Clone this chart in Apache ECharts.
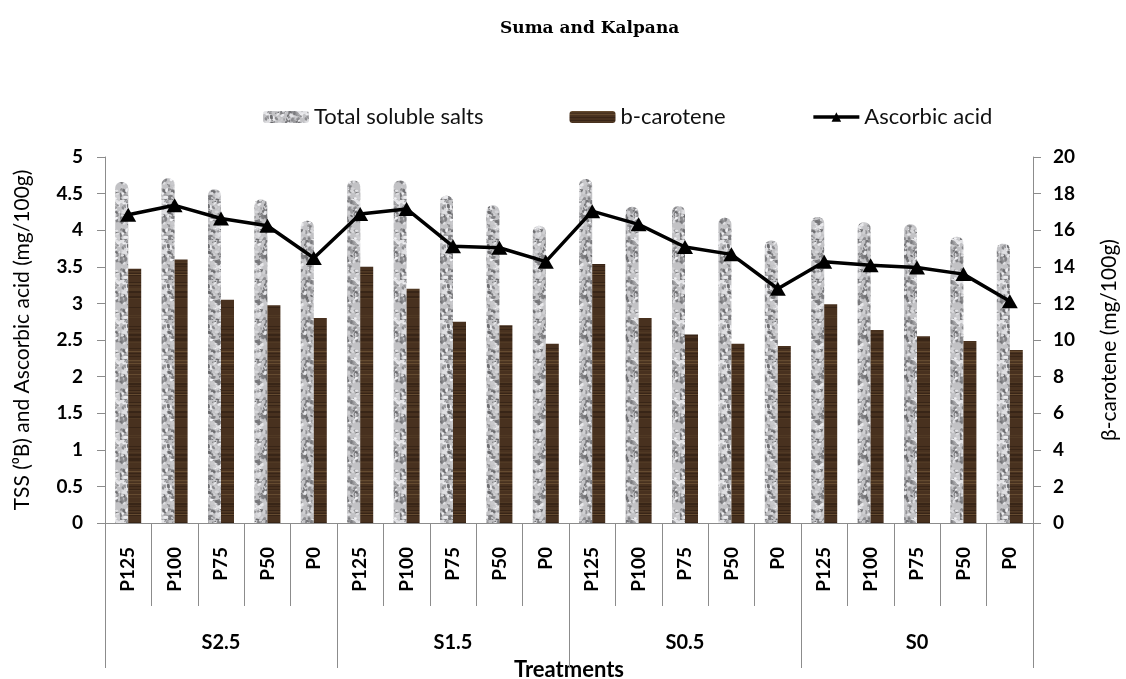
<!DOCTYPE html>
<html>
<head>
<meta charset="utf-8">
<title>Suma and Kalpana</title>
<script src="https://cdn.jsdelivr.net/npm/echarts@6/dist/echarts.min.js"></script>
<style>
  html, body { margin: 0; padding: 0; background: #ffffff; overflow: hidden; }
  #chart { width: 1126px; height: 679px; }
</style>
</head>
<body>
<div id="chart"></div>
<script>
// Treatments: phosphorus levels within each sulphur level
const categories = [
  'P125', 'P100', 'P75', 'P50', 'P0',
  'P125', 'P100', 'P75', 'P50', 'P0',
  'P125', 'P100', 'P75', 'P50', 'P0',
  'P125', 'P100', 'P75', 'P50', 'P0'
];
const groups = ['S2.5', 'S1.5', 'S0.5', 'S0'];

// Total soluble salts (°B), left axis
const tss = [
  4.66, 4.71, 4.56, 4.42, 4.13,
  4.68, 4.68, 4.47, 4.34, 4.06,
  4.70, 4.32, 4.33, 4.17, 3.86,
  4.18, 4.11, 4.08, 3.91, 3.82
];
// beta-carotene (mg/100g), right axis
const carotene = [
  13.9, 14.4, 12.2, 11.9, 11.2,
  14.0, 12.8, 11.0, 10.8, 9.8,
  14.15, 11.2, 10.3, 9.8, 9.67,
  11.95, 10.55, 10.2, 9.95, 9.45
];
// Ascorbic acid (mg/100g), left axis
const ascorbic = [
  4.21, 4.34, 4.16, 4.06, 3.62,
  4.22, 4.29, 3.78, 3.76, 3.57,
  4.26, 4.08, 3.77, 3.67, 3.20,
  3.57, 3.52, 3.49, 3.40, 3.03
];

const leftTicks = { min: 0, max: 5, interval: 0.5 };
const rightTicks = { min: 0, max: 20, interval: 2 };

// Deterministic hash used only for the fill textures
function hash(n) {
  const s = Math.sin(n * 127.1 + 311.7) * 43758.5453;
  return s - Math.floor(s);
}

// Fine grey mottled stone texture for the TSS bars
function stoneTexture() {
  const c = document.createElement('canvas');
  c.width = 40; c.height = 40;
  const g = c.getContext('2d');
  g.fillStyle = '#c2c2c5';
  g.fillRect(0, 0, 40, 40);
  for (let i = 0; i < 240; i++) {
    const x = hash(i) * 40, y = hash(i + 500) * 40;
    const r = 0.5 + hash(i + 1000) * 1.2;
    const v = hash(i + 1500);
    const shade = v < 0.5 ? Math.round(105 + v * 110) : Math.round(200 + (v - 0.5) * 90);
    g.fillStyle = 'rgb(' + shade + ',' + shade + ',' + (shade + 3) + ')';
    g.beginPath();
    g.ellipse(x, y, r * 1.6, r, hash(i + 2000) * Math.PI, 0, Math.PI * 2);
    g.fill();
  }
  return c;
}

// Dark brown grain texture for the beta-carotene bars
function woodTexture() {
  const c = document.createElement('canvas');
  c.width = 16; c.height = 120;
  const g = c.getContext('2d');
  g.fillStyle = '#48311f';
  g.fillRect(0, 0, 16, 120);
  for (let y = 0; y < 120; y++) {
    const v = hash(y + 3000);
    let col;
    if (v > 0.95) col = 'rgba(130,102,66,0.5)';
    else if (v > 0.8) col = 'rgba(88,64,40,0.55)';
    else if (v < 0.2) col = 'rgba(44,28,16,0.55)';
    else continue;
    g.fillStyle = col;
    g.fillRect(0, y, 16, 1);
  }
  return c;
}

const axisGrey = '#8c8c8c';
const sansFont = 'Lato';

const chart = echarts.init(document.getElementById('chart'), null, { renderer: 'canvas' });

chart.setOption({
  backgroundColor: '#ffffff',
  animation: false,
  title: {
    text: 'Suma and Kalpana',
    left: 495,
    top: 15,
    textStyle: { fontFamily: 'DejaVu Serif', fontWeight: 'bold', fontSize: 17, color: '#000' }
  },
  legend: {
    top: 101,
    left: 258,
    itemGap: 86,
    itemWidth: 46,
    itemHeight: 12,
    textStyle: { fontFamily: sansFont, fontSize: 22, color: '#111' },
    data: [
      { name: 'Total soluble salts' },
      { name: 'b-carotene' },
      { name: 'Ascorbic acid', lineStyle: { width: 3.5 }, itemStyle: { color: '#000' } }
    ]
  },
  grid: {
    left: 105, right: 93, top: 157, bottom: 156,
    containLabel: false,
    outerBoundsMode: 'none'
  },
  xAxis: [
    {
      type: 'category',
      data: categories,
      position: 'bottom',
      axisLine: { lineStyle: { color: axisGrey, width: 1 } },
      axisTick: { show: true, interval: 0, length: 83, lineStyle: { color: axisGrey } },
      axisLabel: {
        interval: 0, rotate: 90, margin: 24,
        fontFamily: sansFont, fontWeight: 'bold', fontSize: 19, color: '#000'
      },
      splitLine: { show: false }
    },
    {
      type: 'category',
      data: groups,
      position: 'bottom',
      axisLine: { show: false },
      axisTick: { show: true, interval: 0, length: 145, lineStyle: { color: axisGrey } },
      axisLabel: {
        interval: 0, margin: 110,
        fontFamily: sansFont, fontWeight: 'bold', fontSize: 20, color: '#000'
      },
      name: 'Treatments',
      nameLocation: 'middle',
      nameGap: 136,
      nameTextStyle: { fontFamily: sansFont, fontWeight: 'bold', fontSize: 22, color: '#000' },
      splitLine: { show: false }
    }
  ],
  yAxis: [
    {
      type: 'value',
      min: leftTicks.min, max: leftTicks.max, interval: leftTicks.interval,
      position: 'left',
      axisLine: { show: true, lineStyle: { color: axisGrey } },
      axisTick: { show: true, length: 8, lineStyle: { color: axisGrey } },
      axisLabel: { margin: 22, fontFamily: sansFont, fontWeight: 'bold', fontSize: 19, color: '#000' },
      splitLine: { show: false },
      name: 'TSS (\u2070B) and Ascorbic acid (mg/100g)',
      nameLocation: 'middle',
      nameRotate: 90,
      nameGap: 72,
      nameTextStyle: { fontFamily: sansFont, fontSize: 21, color: '#000' }
    },
    {
      type: 'value',
      min: rightTicks.min, max: rightTicks.max, interval: rightTicks.interval,
      position: 'right',
      axisLine: { show: true, lineStyle: { color: axisGrey } },
      axisTick: { show: true, length: 8, lineStyle: { color: axisGrey } },
      axisLabel: { margin: 20, fontFamily: sansFont, fontWeight: 'bold', fontSize: 19, color: '#000' },
      splitLine: { show: false },
      name: '\u03b2-carotene (mg/100g)',
      nameLocation: 'middle',
      nameRotate: 90,
      nameGap: 66,
      nameTextStyle: { fontFamily: sansFont, fontSize: 21, color: '#000' }
    }
  ],
  series: [
    {
      name: 'Total soluble salts',
      type: 'bar',
      xAxisIndex: 0,
      yAxisIndex: 0,
      data: tss,
      barWidth: 13,
      barGap: '0%',
      itemStyle: { color: { image: stoneTexture(), repeat: 'repeat' }, borderRadius: [6, 6, 0, 0] },
      z: 2
    },
    {
      name: 'b-carotene',
      type: 'bar',
      xAxisIndex: 0,
      yAxisIndex: 1,
      data: carotene,
      barWidth: 13,
      barGap: '0%',
      itemStyle: { color: { image: woodTexture(), repeat: 'repeat' } },
      z: 2
    },
    {
      name: 'Ascorbic acid',
      type: 'line',
      xAxisIndex: 0,
      yAxisIndex: 0,
      data: ascorbic,
      symbol: 'triangle',
      symbolSize: [16, 14],
      lineStyle: { color: '#000', width: 3.5 },
      itemStyle: { color: '#000' },
      z: 5
    }
  ]
});
</script>
</body>
</html>
